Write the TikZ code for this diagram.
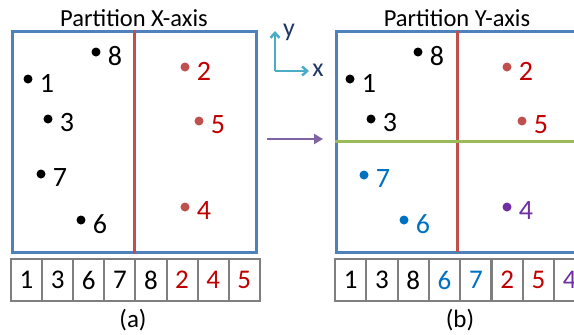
\documentclass[tikz,border=0pt]{standalone}
\usepackage{fontspec}
\setmainfont{Carlito}
\usepackage{tikz}
\usetikzlibrary{positioning,arrows.meta}
\definecolor{boxblue}{HTML}{4F81BD}
\definecolor{cutred}{HTML}{C0504D}
\definecolor{cutgreen}{HTML}{9BBB59}
\definecolor{txtred}{HTML}{C00000}
\definecolor{ptblue}{HTML}{0070C0}
\definecolor{ptpurple}{HTML}{7030A0}
\definecolor{axcyan}{HTML}{4BACC6}
\definecolor{axnavy}{HTML}{1F3864}
\definecolor{arrpurple}{HTML}{8064A2}
\definecolor{cellgray}{HTML}{7F7F7F}

\begin{document}
\begin{tikzpicture}[
        x=1pt, y=-1pt,
        panel/.style={
            rectangle,
            draw=boxblue,
            line width=3pt,
            minimum width=244pt,
            minimum height=221pt,
            inner sep=0pt
        },
        title/.style={
            font=\fontsize{24.5}{27}\selectfont,
            inner sep=0pt
        },
        dot/.style={
            circle,
            inner sep=0pt,
            minimum size=9pt
        },
        num/.style={
            font=\fontsize{28}{30}\selectfont,
            inner sep=0pt
        },
        cell/.style={
            rectangle,
            draw=cellgray,
            line width=2pt,
            minimum width=31.1pt,
            minimum height=42pt,
            inner sep=0pt,
            font=\fontsize{27}{29}\selectfont
        },
        caption/.style={
            font=\fontsize{25}{27}\selectfont,
            inner sep=0pt
        },
        axis/.style={
            -{Straight Barb[length=5pt,width=9pt]},
            line width=2.5pt,
            color=axcyan
        },
        arrow/.style={
            -{Triangle[length=9pt,width=10pt]},
            line width=2pt,
            color=arrpurple
        }
    ]
        \clip (0,0) rectangle (574,335);

        % Panel (a): split on x
        \node[title] (ta) at (134,18) {Partition X-axis};
        \node[panel] (pa) at (134,141.5) {};
        \draw[cutred, line width=3pt] (pa.north) -- (pa.south);
        \foreach \n/\x/\y/\dc/\tc in {8/96/52/black/black, 1/28/79/black/black,
                3/48/119/black/black, 7/41/174/black/black, 6/81/220/black/black,
                2/185/67/cutred/txtred, 5/199/121/cutred/txtred, 4/185/207/cutred/txtred}{
            \node[dot, fill=\dc] (a\n) at (\x,\y) {};
            \node[num, text=\tc, right=7pt of a\n, yshift=-4pt] (la\n) {\n};
        }

        % Panel (b): split on y
        \node[title] (tb) at (457,18) {Partition Y-axis};
        \node[panel] (pb) at (458,141.5) {};
        \draw[cutred, line width=3pt] (457,31) -- (457,252);
        \draw[cutgreen, line width=3.5pt] (pb.west) -- (pb.east);
        \foreach \n/\x/\y/\dc/\tc in {8/418/52/black/black, 1/350/79/black/black,
                3/371/119/black/black, 7/364/175/ptblue/ptblue, 6/404/220/ptblue/ptblue,
                2/507/67/cutred/txtred, 5/522/121/cutred/txtred, 4/507/207/ptpurple/ptpurple}{
            \node[dot, fill=\dc] (b\n) at (\x,\y) {};
            \node[num, text=\tc, right=7pt of b\n, yshift=-4pt] (lb\n) {\n};
        }

        % Axes and step arrow
        \coordinate (ax0) at (275,71);
        \coordinate (axy) at (275,31);
        \coordinate (axx) at (309,71);
        \draw[axis] (ax0) -- (axy);
        \draw[axis] (ax0) -- (axx);
        \node[num, text=axnavy, font=\fontsize{26}{28}\selectfont] (ly) at (289,32) {y};
        \node[num, text=axnavy, font=\fontsize{26}{28}\selectfont] (lx) at (318,70) {x};
        \coordinate (st) at (267,139);
        \coordinate (en) at (323,139);
        \draw[arrow] (st) -- (en);

        % Arrays
        \foreach \d/\c [count=\i] in {1/black, 3/black, 6/black, 7/black, 8/black,
                2/txtred, 4/txtred, 5/txtred}{
            \node[cell, text=\c] (ca\i) at ({11+31.1*(\i-0.5)},280) {\d};
        }
        \foreach \d/\c [count=\i] in {1/black, 3/black, 8/black, 6/ptblue, 7/ptblue,
                2/txtred, 5/txtred, 4/ptpurple}{
            \node[cell, text=\c] (cb\i) at ({335+31.3*(\i-0.5)},280) {\d};
        }

        \node[caption] (capa) at (133,320) {(a)};
        \node[caption] (capb) at (460,320) {(b)};
    \end{tikzpicture}
\end{document}
